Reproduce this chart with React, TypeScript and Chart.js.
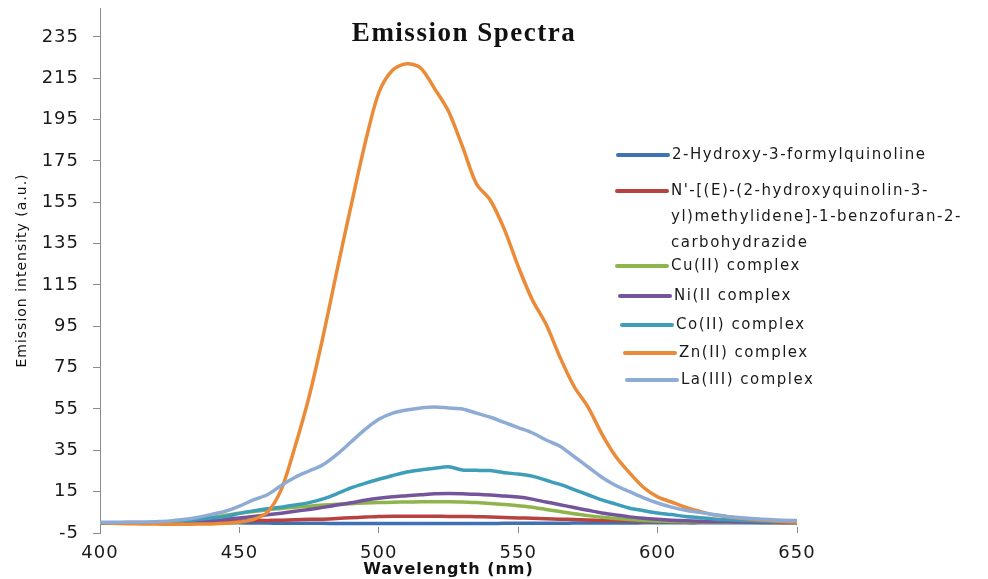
import React, { useEffect, useRef } from 'react';
import { Chart, registerables } from 'chart.js';

Chart.register(...registerables);

// ---------- DATA ----------
const wavelengths = [
  400, 405, 410, 415, 420, 425, 430, 435, 440, 445, 450, 455, 460, 465, 470, 475, 480,
  485, 490, 495, 500, 505, 510, 515, 520, 525, 530, 535, 540, 545, 550, 555, 560, 565,
  570, 575, 580, 585, 590, 595, 600, 605, 610, 615, 620, 625, 630, 635, 640, 645, 650,
];

const hydroxyFormylquinoline = [
  0, 0, 0, 0, 0, 0, 0, 0, 0, 0, -0.1, -0.2, -0.2, -0.3, -0.3, -0.3, -0.3, -0.4, -0.4,
  -0.4, -0.4, -0.4, -0.4, -0.4, -0.4, -0.4, -0.4, -0.4, -0.4, -0.3, -0.3, -0.3, -0.3,
  -0.3, -0.2, -0.2, -0.2, -0.2, -0.2, -0.1, -0.1, -0.1, -0.1, -0.1, 0, 0, 0, 0, 0, 0, 0,
];

const ligand = [
  0, 0, 0, 0, 0, 0, 0.1, 0.2, 0.3, 0.6, 0.8, 1, 1.1, 1.2, 1.4, 1.6, 1.7, 2, 2.4, 2.7, 3,
  3.1, 3.1, 3.1, 3.1, 3, 3, 2.9, 2.7, 2.5, 2.3, 2.1, 1.9, 1.7, 1.5, 1.3, 1.1, 1, 0.9, 0.7,
  0.6, 0.5, 0.4, 0.35, 0.3, 0.25, 0.2, 0.15, 0.1, 0.1, 0,
];

const cuComplex = [
  0, 0, 0, 0, 0.2, 0.4, 0.8, 1.5, 2.5, 3.6, 4.6, 5.4, 6.2, 6.9, 7.5, 8, 8.5, 8.9, 9.2,
  9.5, 9.7, 9.9, 10, 10.1, 10.1, 10.1, 10, 9.7, 9.3, 8.8, 8.2, 7.5, 6.4, 5.4, 4.3, 3.4,
  2.6, 2, 1.5, 1.1, 0.8, 0.6, 0.5, 0.4, 0.3, 0.2, 0.2, 0.1, 0.1, 0.1, 0,
];

const niComplex = [
  0, 0, 0, 0, 0, 0.2, 0.4, 0.7, 1, 1.5, 2.3, 3, 3.8, 4.6, 5.5, 6.4, 7.4, 8.5, 9.6, 10.8,
  11.8, 12.5, 13, 13.5, 14, 14.1, 14, 13.7, 13.4, 12.9, 12.4, 11.4, 10, 8.7, 7.3, 6, 4.7,
  3.7, 2.8, 2.1, 1.6, 1.2, 0.9, 0.7, 0.5, 0.4, 0.3, 0.2, 0.2, 0.1, 0.1,
];

const coComplex = [
  0, 0, 0, 0, 0.2, 0.4, 0.8, 1.5, 2.3, 3, 4.5, 5.7, 6.7, 7.5, 8.5, 9.7, 11.5, 14, 16.8,
  19, 21, 22.8, 24.5, 25.5, 26.3, 27, 25.5, 25.3, 25.2, 24.2, 23.5, 22.5, 20.5, 18.5, 16,
  13.5, 11, 9, 7, 5.8, 4.7, 3.9, 3, 2.4, 1.8, 1.4, 1.1, 0.8, 0.6, 0.4, 0.3,
];

const znComplex = [
  0, -0.3, -0.5, -0.6, -0.7, -0.8, -0.8, -0.7, -0.6, -0.3, 0.3, 1.6, 5, 16, 37, 61, 90,
  122, 153, 183, 208, 219, 222, 220, 210, 199, 182, 164, 156, 142, 124, 108, 96, 80, 66,
  56, 43, 32, 24, 17, 12.5, 10, 7.5, 5.5, 3.8, 2.9, 2.1, 1.5, 1, 0.6, 0.3,
];

const laComplex = [
  0.2, 0.2, 0.3, 0.3, 0.5, 0.8, 1.5, 2.5, 4, 5.5, 8, 11, 13.5, 18, 22, 25, 28, 33, 39,
  45, 50, 53, 54.5, 55.5, 56, 55.5, 55, 53, 51, 48.5, 46, 43.5, 40, 37, 32, 27, 22, 18,
  15, 12, 9.5, 7.5, 6, 5, 4, 3, 2.4, 1.9, 1.5, 1.2, 1,
];

const seriesNames = [
  '2-Hydroxy-3-formylquinoline',
  "N'-[(E)-(2-hydroxyquinolin-3-yl)methylidene]-1-benzofuran-2-carbohydrazide",
  'Cu(II) complex',
  'Ni(II complex',
  'Co(II) complex',
  'Zn(II) complex',
  'La(III) complex',
];

// legend text as it wraps in the original
const legendTextLines = [
  ['2-Hydroxy-3-formylquinoline'],
  ["N'-[(E)-(2-hydroxyquinolin-3-", 'yl)methylidene]-1-benzofuran-2-', 'carbohydrazide'],
  ['Cu(II) complex'],
  ['Ni(II complex'],
  ['Co(II) complex'],
  ['Zn(II) complex'],
  ['La(III) complex'],
];

const seriesValues = [
  hydroxyFormylquinoline,
  ligand,
  cuComplex,
  niComplex,
  coComplex,
  znComplex,
  laComplex,
];

const xTickValues = [400, 450, 500, 550, 600, 650];
const yTickValues = [-5, 15, 35, 55, 75, 95, 115, 135, 155, 175, 195, 215, 235];

const chartTitle = 'Emission Spectra';
const xAxisTitle = 'Wavelength (nm)';
const yAxisTitle = 'Emission intensity (a.u.)';

// ---------- STYLE ----------
const seriesColors = ['#3F72B4', '#B8423F', '#8FB44C', '#74559C', '#3E9EB9', '#EB8A37', '#8EABD6'];

const legendPlacement = [
  { x: 618, y: 155 },
  { x: 617, y: 191 },
  { x: 617, y: 266 },
  { x: 620, y: 296 },
  { x: 622, y: 325 },
  { x: 625, y: 353 },
  { x: 627, y: 380 },
];

const decorPlugin = {
  id: 'decor',
  beforeDraw(chart: any) {
    chart.ctx.letterSpacing = '1px';
  },
  afterDraw(chart: any) {
    const ctx = chart.ctx as CanvasRenderingContext2D;
    ctx.save();
    // title
    (ctx as any).letterSpacing = '1.5px';
    ctx.font = 'bold 27px "Liberation Serif"';
    ctx.fillStyle = '#111';
    ctx.textAlign = 'center';
    ctx.textBaseline = 'alphabetic';
    ctx.fillText(chartTitle, 464, 41);

    // legend
    ctx.font = '15px "DejaVu Sans"';
    (ctx as any).letterSpacing = '1.5px';
    ctx.textAlign = 'left';
    ctx.textBaseline = 'middle';
    legendPlacement.forEach((p, i) => {
      ctx.strokeStyle = seriesColors[i];
      ctx.lineWidth = 4;
      ctx.lineCap = 'round';
      ctx.beginPath();
      ctx.moveTo(p.x, p.y);
      ctx.lineTo(p.x + 50, p.y);
      ctx.stroke();
      ctx.fillStyle = '#1a1a1a';
      legendTextLines[i].forEach((line, k) => {
        ctx.fillText(line, p.x + 54, p.y + k * 26);
      });
    });
    ctx.restore();
  },
};

export default function App() {
  const ref = useRef<HTMLCanvasElement>(null);

  useEffect(() => {
    if (!ref.current) return;
    const n = seriesValues.length;
    const chart = new Chart(ref.current, {
      type: 'line',
      data: {
        datasets: seriesValues.map((vals, i) => ({
          label: seriesNames[i],
          data: wavelengths.map((w, j) => ({ x: w, y: vals[j] })),
          borderColor: seriesColors[i],
          backgroundColor: seriesColors[i],
          borderWidth: 3.5,
          pointRadius: 0,
          tension: 0.3,
          fill: false,
          order: n - 1 - i,
        })),
      },
      options: {
        animation: false,
        responsive: true,
        maintainAspectRatio: false,
        layout: { padding: { left: 0, right: 191, top: 8, bottom: 0 } },
        plugins: {
          legend: { display: false },
          title: { display: false },
          tooltip: { enabled: false },
        },
        scales: {
          x: {
            type: 'linear',
            min: 400,
            max: 650,
            afterBuildTicks: (s: any) => {
              s.ticks = xTickValues.map((v) => ({ value: v }));
            },
            afterFit: (s: any) => {
              s.height = 46;
              s.paddingLeft = 0;
              s.paddingRight = 0;
              s.paddingTop = 0;
              s.paddingBottom = 0;
            },
            grid: {
              display: true,
              drawOnChartArea: false,
              drawTicks: true,
              tickLength: -6,
              color: '#8a8a8a',
            },
            border: { display: false },
            ticks: {
              font: { family: 'DejaVu Sans', size: 18 },
              color: '#1a1a1a',
              padding: 16,
              maxRotation: 0,
              autoSkip: false,
            },
            title: {
              display: true,
              text: xAxisTitle,
              font: { family: 'DejaVu Sans', size: 16, weight: 'bold' },
              color: '#111',
              padding: { top: 0, bottom: 0 },
            },
          },
          y: {
            type: 'linear',
            min: -5,
            max: 249,
            afterBuildTicks: (s: any) => {
              s.ticks = yTickValues.map((v) => ({ value: v }));
            },
            afterFit: (s: any) => {
              s.width = 100;
              s.paddingLeft = 0;
              s.paddingRight = 0;
              s.paddingTop = 0;
              s.paddingBottom = 0;
            },
            grid: {
              display: true,
              drawOnChartArea: false,
              drawTicks: true,
              tickLength: 7,
              color: '#8a8a8a',
            },
            border: { display: true, color: '#8a8a8a', width: 1 },
            ticks: {
              font: { family: 'DejaVu Sans', size: 18 },
              color: '#1a1a1a',
              padding: 14,
              autoSkip: false,
            },
            title: {
              display: true,
              text: yAxisTitle,
              font: { family: 'DejaVu Sans', size: 14 },
              color: '#111',
              padding: { top: 14, bottom: 0 },
            },
          },
        },
      },
      plugins: [decorPlugin],
    } as any);
    return () => chart.destroy();
  }, []);

  return (
    <div
      style={{
        position: 'absolute',
        left: 0,
        top: 0,
        width: 988,
        height: 579,
        background: '#fff',
      }}
    >
      <canvas ref={ref} />
    </div>
  );
}
